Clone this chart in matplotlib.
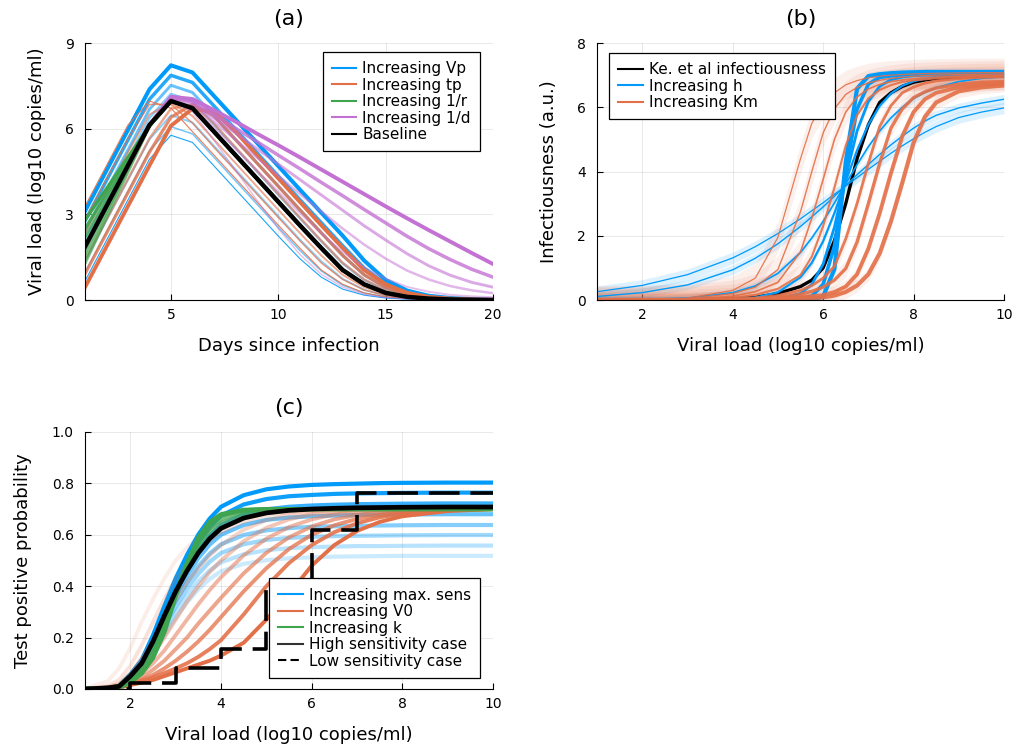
import matplotlib
matplotlib.use("Agg")
import matplotlib.pyplot as plt
from matplotlib.lines import Line2D

BLUE = "#009AFA"
ORANGE = "#E36F47"
GREEN = "#3EA44E"
PURPLE = "#C371D2"

# ---------------- panel (a): viral load trajectories ----------------
days = list(range(1, 21))
baseline = [1.87, 3.29, 4.71, 6.13, 6.97, 6.72, 5.9, 5.08, 4.26, 3.44, 2.62, 1.82,
            1.05, 0.55, 0.25, 0.11, 0.05, 0.02, 0.01, 0.0]

vp_curves = [
    [0.67, 2.09, 3.51, 4.93, 5.77, 5.52, 4.7, 3.88, 3.06, 2.24, 1.45, 0.8, 0.38, 0.17, 0.07, 0.03, 0.01, 0, 0, 0],
    [0.97, 2.39, 3.81, 5.23, 6.07, 5.82, 5.0, 4.18, 3.36, 2.54, 1.74, 1.02, 0.52, 0.24, 0.1, 0.04, 0.02, 0.01, 0, 0],
    [1.37, 2.79, 4.21, 5.63, 6.47, 6.22, 5.4, 4.58, 3.76, 2.94, 2.12, 1.36, 0.74, 0.36, 0.15, 0.06, 0.03, 0.01, 0, 0],
    [2.12, 3.54, 4.96, 6.38, 7.22, 6.97, 6.15, 5.33, 4.51, 3.69, 2.87, 2.06, 1.28, 0.7, 0.33, 0.15, 0.07, 0.03, 0.01, 0],
    [2.42, 3.84, 5.26, 6.68, 7.52, 7.27, 6.45, 5.63, 4.81, 3.99, 3.17, 2.36, 1.56, 0.88, 0.43, 0.2, 0.09, 0.04, 0.02, 0.01],
    [2.77, 4.19, 5.61, 7.03, 7.87, 7.62, 6.8, 5.98, 5.16, 4.34, 3.52, 2.71, 1.9, 1.12, 0.56, 0.26, 0.12, 0.05, 0.02, 0.01],
    [3.12, 4.54, 5.96, 7.38, 8.22, 7.97, 7.15, 6.33, 5.51, 4.69, 3.87, 3.06, 2.25, 1.38, 0.7, 0.33, 0.15, 0.07, 0.03, 0.01],
]
vp_alpha = [0.9, 0.55, 0.45, 0.45, 0.6, 0.85, 1.0]
vp_lw = [0.8, 1.1, 1.4, 1.8, 2.1, 2.5, 2.9]

tp_curves = [
    [3.29, 4.71, 6.13, 6.97, 6.72, 5.9, 5.08, 4.26, 3.44, 2.62, 1.82, 1.05, 0.55, 0.25, 0.11, 0.05, 0.02, 0.01, 0, 0],
    [2.82, 4.24, 5.66, 6.85, 6.85, 6.2, 5.35, 4.53, 3.71, 2.89, 2.08, 1.3, 0.72, 0.35, 0.16, 0.07, 0.03, 0.01, 0, 0],
    [2.34, 3.76, 5.18, 6.5, 6.9, 6.45, 5.62, 4.8, 3.98, 3.16, 2.35, 1.56, 0.88, 0.45, 0.2, 0.09, 0.04, 0.02, 0.01, 0],
    [1.4, 2.82, 4.24, 5.66, 6.7, 6.85, 6.18, 5.35, 4.53, 3.71, 2.89, 2.08, 1.3, 0.72, 0.35, 0.16, 0.07, 0.03, 0.01, 0],
    [0.92, 2.34, 3.76, 5.18, 6.4, 6.85, 6.45, 5.62, 4.8, 3.98, 3.16, 2.35, 1.56, 0.88, 0.45, 0.2, 0.09, 0.04, 0.02, 0.01],
    [0.45, 1.87, 3.29, 4.71, 6.1, 6.7, 6.6, 5.9, 5.08, 4.26, 3.44, 2.62, 1.82, 1.05, 0.55, 0.25, 0.11, 0.05, 0.02, 0.01],
]
tp_alpha = [0.9, 0.7, 0.6, 0.6, 0.8, 1.0]
tp_lw = [0.8, 1.1, 1.4, 1.8, 2.3, 2.8]

r_rises = [
    [1.3, 2.9, 4.5, 6.1, 6.97],
    [1.6, 3.1, 4.6, 6.1, 6.97],
    [2.2, 3.5, 4.8, 6.1, 6.97],
    [2.5, 3.7, 4.9, 6.1, 6.97],
    [2.8, 3.9, 5.0, 6.1, 6.97],
]
r_tail = [6.72, 5.9, 5.08, 4.26, 3.44, 2.62, 1.82, 1.05, 0.55, 0.25, 0.11, 0.05, 0.02, 0.01, 0.0]
r_alpha = [0.7, 0.75, 0.8, 0.9, 1.0]

d_curves = [
    [1.87, 3.29, 4.71, 6.13, 6.97, 6.6, 5.6, 4.55, 3.5, 2.5, 1.6, 0.9, 0.45, 0.2, 0.09, 0.04, 0.02, 0.01, 0, 0],
    [1.87, 3.29, 4.71, 6.13, 7.0, 6.8, 6.05, 5.3, 4.55, 3.8, 3.05, 2.33, 1.68, 1.14, 0.75, 0.46, 0.29, 0.18, 0.13, 0.1],
    [1.87, 3.29, 4.71, 6.13, 7.03, 6.88, 6.25, 5.62, 4.99, 4.35, 3.72, 3.1, 2.5, 1.94, 1.45, 1.03, 0.72, 0.49, 0.34, 0.24],
    [1.87, 3.29, 4.71, 6.13, 7.06, 6.93, 6.38, 5.85, 5.3, 4.76, 4.22, 3.68, 3.14, 2.6, 2.1, 1.62, 1.2, 0.87, 0.62, 0.45],
    [1.87, 3.29, 4.71, 6.13, 7.09, 6.98, 6.5, 6.02, 5.55, 5.07, 4.6, 4.12, 3.65, 3.17, 2.7, 2.23, 1.8, 1.42, 1.08, 0.8],
    [1.87, 3.29, 4.71, 6.13, 7.12, 7.04, 6.65, 6.25, 5.83, 5.42, 5.0, 4.57, 4.14, 3.71, 3.28, 2.86, 2.45, 2.05, 1.65, 1.26],
]
d_alpha = [0.45, 0.45, 0.5, 0.6, 0.8, 1.0]
d_lw = [1.0, 1.4, 1.8, 2.1, 2.5, 2.8]

# ---------------- panel (b): infectiousness ----------------
vl_b = [1, 2, 3, 4, 4.5, 5, 5.5, 5.75, 6, 6.25, 6.5, 6.75, 7, 7.25, 7.5, 7.75, 8, 8.25, 8.5, 9, 9.5, 10]
ke_curve = [0, 0, 0.005, 0.03, 0.08, 0.2, 0.42, 0.62, 1.0, 1.85, 3.0, 4.4, 5.45, 6.15, 6.45, 6.65,
            6.78, 6.85, 6.9, 6.95, 6.97, 6.98]
h_curves = [
    [0.26, 0.455, 0.79, 1.31, 1.66, 2.07, 2.53, 2.78, 3.03, 3.29, 3.55, 3.81, 4.07, 4.32, 4.57, 4.8, 5.02, 5.22, 5.4, 5.68, 5.85, 5.98],
    [0.11, 0.23, 0.47, 0.94, 1.3, 1.75, 2.29, 2.59, 2.9, 3.23, 3.57, 3.9, 4.22, 4.53, 4.83, 5.1, 5.35, 5.57, 5.75, 5.98, 6.13, 6.25],
    [0.004, 0.015, 0.059, 0.23, 0.44, 0.83, 1.48, 1.93, 2.45, 3.02, 3.62, 4.21, 4.77, 5.26, 5.67, 6.0, 6.27, 6.46, 6.61, 6.8, 6.9, 6.95],
    [0, 0, 0.002, 0.025, 0.078, 0.24, 0.71, 1.16, 1.83, 2.71, 3.7, 4.66, 5.46, 6.04, 6.43, 6.67, 6.81, 6.89, 6.94, 6.98, 6.99, 7.0],
    [0, 0, 0, 0.001, 0.005, 0.033, 0.2, 0.49, 1.12, 2.27, 3.82, 5.26, 6.18, 6.65, 6.86, 6.94, 6.98, 7.0, 7.0, 7.02, 7.03, 7.04],
    [0, 0, 0, 0, 0, 0.003, 0.03, 0.12, 0.49, 1.68, 4.0, 5.94, 6.72, 6.93, 6.98, 7.0, 7.02, 7.03, 7.04, 7.05, 7.06, 7.06],
    [0, 0, 0, 0, 0, 0, 0.002, 0.01, 0.11, 0.96, 4.29, 6.58, 6.97, 7.03, 7.06, 7.08, 7.09, 7.1, 7.1, 7.1, 7.1, 7.1],
]
h_band = [0.18, 0.15, 0.12, 0.1, 0.1, 0.12, 0.12]
h_lw = [0.9, 1.0, 1.2, 1.6, 2.0, 2.6, 3.0]

km_curves = [
    [0, 0.01, 0.06, 0.3, 0.68, 1.95, 4.4, 5.5, 6.1, 6.45, 6.7, 6.83, 6.92, 6.97, 7.0, 7.02, 7.04, 7.05, 7.06, 7.07, 7.08, 7.08],
    [0, 0.01, 0.04, 0.2, 0.4, 0.95, 2.75, 4.0, 5.2, 5.95, 6.4, 6.62, 6.76, 6.84, 6.9, 6.94, 6.97, 6.99, 7.0, 7.02, 7.03, 7.04],
    [0, 0, 0.02, 0.12, 0.26, 0.55, 1.5, 2.55, 3.75, 5.0, 5.85, 6.32, 6.57, 6.71, 6.8, 6.85, 6.89, 6.92, 6.94, 6.97, 6.99, 7.0],
    [0, 0, 0.01, 0.07, 0.16, 0.35, 0.78, 1.35, 2.3, 3.5, 4.8, 5.75, 6.28, 6.54, 6.69, 6.79, 6.84, 6.87, 6.9, 6.94, 6.96, 6.97],
    [0, 0, 0, 0.02, 0.06, 0.14, 0.3, 0.45, 0.68, 1.05, 1.9, 3.0, 4.25, 5.4, 6.05, 6.45, 6.63, 6.75, 6.82, 6.89, 6.93, 6.95],
    [0, 0, 0, 0.01, 0.03, 0.08, 0.18, 0.27, 0.4, 0.62, 0.98, 1.8, 3.0, 4.25, 5.35, 5.95, 6.3, 6.48, 6.6, 6.72, 6.78, 6.8],
    [0, 0, 0, 0, 0.01, 0.04, 0.09, 0.12, 0.15, 0.25, 0.42, 0.8, 1.6, 2.7, 3.95, 5.1, 5.85, 6.25, 6.45, 6.62, 6.7, 6.74],
    [0, 0, 0, 0, 0, 0.02, 0.04, 0.06, 0.08, 0.14, 0.25, 0.45, 0.8, 1.45, 2.45, 3.65, 4.9, 5.7, 6.15, 6.5, 6.62, 6.68],
]
km_band = [0.45, 0.42, 0.38, 0.32, 0.25, 0.25, 0.2, 0.2]
km_lw = [0.9, 1.0, 1.2, 1.5, 2.0, 2.4, 2.8, 3.0]

# ---------------- panel (c): test positive probability ----------------
vl_c = [1, 1.5, 1.75, 2, 2.25, 2.5, 2.75, 3, 3.25, 3.5, 3.75, 4, 4.5, 5, 5.5, 6, 6.5, 7, 7.5, 8, 9, 10]
high_sens = [0, 0.004, 0.01, 0.05, 0.1, 0.185, 0.285, 0.38, 0.46, 0.53, 0.585, 0.625, 0.665, 0.685,
             0.695, 0.7, 0.703, 0.705, 0.706, 0.707, 0.708, 0.708]
sens_curves = [
    [0, 0.003, 0.007, 0.037, 0.073, 0.135, 0.209, 0.278, 0.337, 0.388, 0.428, 0.458, 0.487, 0.501, 0.509, 0.512, 0.515, 0.516, 0.517, 0.518, 0.518, 0.518],
    [0, 0.003, 0.008, 0.039, 0.079, 0.146, 0.225, 0.3, 0.362, 0.418, 0.461, 0.493, 0.524, 0.54, 0.548, 0.552, 0.554, 0.556, 0.556, 0.557, 0.558, 0.558],
    [0, 0.003, 0.008, 0.042, 0.085, 0.157, 0.241, 0.321, 0.389, 0.448, 0.495, 0.529, 0.563, 0.58, 0.588, 0.592, 0.595, 0.596, 0.597, 0.598, 0.599, 0.599],
    [0, 0.004, 0.009, 0.045, 0.09, 0.167, 0.257, 0.342, 0.414, 0.478, 0.527, 0.563, 0.599, 0.617, 0.626, 0.631, 0.633, 0.635, 0.636, 0.637, 0.638, 0.638],
    [0, 0.004, 0.01, 0.048, 0.096, 0.178, 0.274, 0.365, 0.442, 0.509, 0.562, 0.6, 0.638, 0.658, 0.667, 0.672, 0.675, 0.677, 0.678, 0.679, 0.68, 0.68],
    [0, 0.004, 0.01, 0.051, 0.102, 0.189, 0.291, 0.388, 0.469, 0.541, 0.597, 0.638, 0.678, 0.699, 0.709, 0.714, 0.717, 0.719, 0.72, 0.721, 0.722, 0.722],
    [0, 0.004, 0.011, 0.054, 0.108, 0.2, 0.308, 0.41, 0.496, 0.572, 0.631, 0.674, 0.718, 0.739, 0.75, 0.755, 0.759, 0.761, 0.762, 0.763, 0.764, 0.764],
    [0, 0.005, 0.011, 0.057, 0.113, 0.21, 0.323, 0.431, 0.522, 0.601, 0.663, 0.709, 0.754, 0.777, 0.788, 0.794, 0.797, 0.799, 0.801, 0.802, 0.803, 0.803],
]
sens_alpha = [0.2, 0.28, 0.38, 0.48, 0.6, 0.78, 0.95, 1.0]

v0_curves = [
    [0.002, 0.03, 0.08, 0.16, 0.26, 0.35, 0.43, 0.5, 0.55, 0.59, 0.62, 0.645, 0.672, 0.687, 0.695, 0.698, 0.7, 0.7, 0.7, 0.7, 0.7, 0.7],
    [0, 0.012, 0.035, 0.09, 0.17, 0.26, 0.35, 0.43, 0.49, 0.54, 0.58, 0.61, 0.65, 0.675, 0.688, 0.695, 0.698, 0.7, 0.7, 0.7, 0.7, 0.7],
    [0, 0.008, 0.02, 0.06, 0.12, 0.19, 0.27, 0.345, 0.415, 0.47, 0.52, 0.56, 0.62, 0.657, 0.678, 0.69, 0.696, 0.699, 0.7, 0.7, 0.7, 0.7],
    [0, 0.006, 0.015, 0.04, 0.08, 0.135, 0.2, 0.27, 0.34, 0.4, 0.455, 0.5, 0.575, 0.627, 0.66, 0.68, 0.69, 0.696, 0.698, 0.7, 0.7, 0.7],
    [0, 0.005, 0.012, 0.03, 0.06, 0.1, 0.15, 0.21, 0.27, 0.33, 0.385, 0.435, 0.52, 0.585, 0.63, 0.66, 0.679, 0.69, 0.695, 0.698, 0.7, 0.7],
    [0, 0.004, 0.01, 0.025, 0.045, 0.075, 0.11, 0.155, 0.2, 0.255, 0.305, 0.355, 0.45, 0.53, 0.59, 0.632, 0.66, 0.677, 0.688, 0.694, 0.699, 0.7],
    [0, 0.003, 0.008, 0.02, 0.035, 0.055, 0.08, 0.11, 0.145, 0.185, 0.23, 0.28, 0.38, 0.47, 0.545, 0.6, 0.637, 0.662, 0.678, 0.688, 0.697, 0.7],
    [0, 0.002, 0.006, 0.018, 0.03, 0.045, 0.062, 0.08, 0.1, 0.125, 0.155, 0.19, 0.29, 0.4, 0.49, 0.56, 0.61, 0.645, 0.668, 0.682, 0.696, 0.7],
    [0, 0, 0.005, 0.015, 0.025, 0.035, 0.05, 0.065, 0.08, 0.095, 0.11, 0.13, 0.18, 0.27, 0.37, 0.48, 0.56, 0.615, 0.65, 0.672, 0.692, 0.7],
]
v0_alpha = [0.12, 0.2, 0.3, 0.4, 0.5, 0.62, 0.75, 0.88, 1.0]

k_curves = [
    [0, 0.003, 0.012, 0.045, 0.1, 0.17, 0.265, 0.37, 0.47, 0.55, 0.61, 0.645, 0.68, 0.694, 0.699, 0.7, 0.7, 0.7, 0.7, 0.7, 0.7, 0.7],
    [0, 0.002, 0.01, 0.04, 0.09, 0.16, 0.26, 0.375, 0.48, 0.565, 0.625, 0.66, 0.69, 0.698, 0.7, 0.7, 0.7, 0.7, 0.7, 0.7, 0.7, 0.7],
    [0, 0.002, 0.008, 0.03, 0.075, 0.14, 0.245, 0.37, 0.49, 0.58, 0.64, 0.675, 0.695, 0.7, 0.7, 0.7, 0.7, 0.7, 0.7, 0.7, 0.7, 0.7],
    [0, 0.001, 0.005, 0.025, 0.06, 0.12, 0.22, 0.36, 0.49, 0.59, 0.65, 0.68, 0.697, 0.7, 0.7, 0.7, 0.7, 0.7, 0.7, 0.7, 0.7, 0.7],
]
k_alpha = [0.6, 0.7, 0.85, 1.0]

low_x = [1, 2, 3, 4, 5, 6, 7, 10]
low_sens = [0, 0.022, 0.083, 0.155, 0.39, 0.62, 0.764, 0.764]


def style_axes(ax, title, xlabel, ylabel):
    ax.set_title(title, fontsize=16, pad=13)
    ax.set_xlabel(xlabel, fontsize=13, labelpad=10.5)
    ax.set_ylabel(ylabel, fontsize=13, labelpad=14)
    for s in ("top", "right"):
        ax.spines[s].set_visible(False)
    ax.tick_params(direction="in", length=4, width=0.8, labelsize=10)
    ax.tick_params(axis="x", pad=6)
    ax.tick_params(axis="y", pad=8)
    ax.grid(True, color="black", alpha=0.1, lw=0.6)
    ax.set_axisbelow(True)


def legend(ax, entries, **kw):
    handles = [Line2D([], [], color=c, lw=1.5, ls=ls) for c, ls, _ in entries]
    labels = [t for _, _, t in entries]
    leg = ax.legend(handles, labels, fontsize=11, fancybox=False, framealpha=1,
                    edgecolor="black", borderpad=0.6, labelspacing=0.1,
                    handlelength=1.6, handletextpad=0.4, borderaxespad=0, **kw)
    leg.get_frame().set_linewidth(0.9)


fig = plt.figure(figsize=(10.16, 7.51), dpi=100)
ax_a = fig.add_axes([0.0837, 0.6005, 0.4016, 0.3422])
ax_b = fig.add_axes([0.5876, 0.6005, 0.4006, 0.3422])
ax_c = fig.add_axes([0.0837, 0.0826, 0.4016, 0.3422])

# (a)
for y, a, w in zip(vp_curves, vp_alpha, vp_lw):
    ax_a.plot(days, y, color=BLUE, alpha=a, lw=w)
for y, a, w in zip(tp_curves, tp_alpha, tp_lw):
    ax_a.plot(days, y, color=ORANGE, alpha=a, lw=w)
for rise, a in zip(r_rises, r_alpha):
    ax_a.plot(days, rise + r_tail, color=GREEN, alpha=a, lw=2.4)
for y, a, w in zip(d_curves, d_alpha, d_lw):
    ax_a.plot(days, y, color=PURPLE, alpha=a, lw=w)
ax_a.plot(days, baseline, color="black", lw=3.2)
ax_a.set_xlim(1, 20)
ax_a.set_ylim(0, 9)
ax_a.set_xticks([5, 10, 15, 20])
ax_a.set_yticks([0, 3, 6, 9])
style_axes(ax_a, "(a)", "Days since infection", "Viral load (log10 copies/ml)")
legend(ax_a, [(BLUE, "-", "Increasing Vp"), (ORANGE, "-", "Increasing tp"),
              (GREEN, "-", "Increasing 1/r"), (PURPLE, "-", "Increasing 1/d"),
              ("black", "-", "Baseline")],
       loc="upper right", bbox_to_anchor=(0.968, 0.965))

# (b)
ax_b.plot(vl_b, ke_curve, color="black", lw=2.4)
for y, bw, w in zip(h_curves, h_band, h_lw):
    ax_b.fill_between(vl_b, [v - bw for v in y], [v + bw for v in y], color=BLUE, alpha=0.13, lw=0)
    ax_b.plot(vl_b, y, color=BLUE, lw=w)
for y, bw, w in zip(km_curves, km_band, km_lw):
    ax_b.fill_between(vl_b, [v - bw for v in y], [v + bw for v in y], color=ORANGE, alpha=0.1, lw=0)
    ax_b.plot(vl_b, y, color=ORANGE, lw=w, alpha=0.9)
ax_b.set_xlim(1, 10)
ax_b.set_ylim(0, 8)
ax_b.set_xticks([2, 4, 6, 8, 10])
ax_b.set_yticks([0, 2, 4, 6, 8])
style_axes(ax_b, "(b)", "Viral load (log10 copies/ml)", "Infectiousness (a.u.)")
legend(ax_b, [("black", "-", "Ke. et al infectiousness"), (BLUE, "-", "Increasing h"),
              (ORANGE, "-", "Increasing Km")],
       loc="upper left", bbox_to_anchor=(0.03, 0.961))

# (c)
for y, a in zip(sens_curves, sens_alpha):
    ax_c.plot(vl_c, y, color=BLUE, alpha=a, lw=3.0)
for y, a in zip(v0_curves, v0_alpha):
    ax_c.plot(vl_c, y, color=ORANGE, alpha=a, lw=2.8)
for y, a in zip(k_curves, k_alpha):
    ax_c.plot(vl_c, y, color=GREEN, alpha=a, lw=3.0)
ax_c.plot(vl_c, high_sens, color="black", lw=3.4)
ax_c.plot(low_x, low_sens, color="black", lw=2.6, ls=(0, (8.5, 3)), drawstyle="steps-post")
ax_c.set_xlim(1, 10)
ax_c.set_ylim(0, 1)
ax_c.set_xticks([2, 4, 6, 8, 10])
ax_c.set_yticks([0, 0.2, 0.4, 0.6, 0.8, 1.0])
ax_c.set_yticklabels(["0.0", "0.2", "0.4", "0.6", "0.8", "1.0"])
style_axes(ax_c, "(c)", "Viral load (log10 copies/ml)", "Test positive probability")
legend(ax_c, [(BLUE, "-", "Increasing max. sens"), (ORANGE, "-", "Increasing V0"),
              (GREEN, "-", "Increasing k"), ("#333333", "-", "High sensitivity case"),
              ("black", (0, (4, 2)), "Low sensitivity case")],
       loc="lower right", bbox_to_anchor=(0.968, 0.043))

fig.savefig("out.png", dpi=100)
